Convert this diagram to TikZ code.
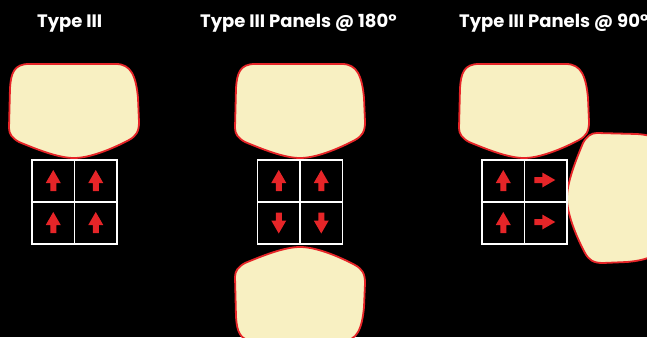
\documentclass[tikz,border=0pt]{standalone}
\usepackage{fontspec}
\setmainfont{Poppins}
\definecolor{shapefill}{HTML}{F8F0C2}
\definecolor{shapered}{HTML}{E62528}
\tikzset{
  blob/.style={fill=shapefill,draw=shapered,line width=1.8pt,line join=round},
  gridline/.style={draw=white,line width=1.8pt},
  arrowshape/.style={fill=shapered,draw=none},
  title/.style={text=white,anchor=base west,inner sep=0pt,font=\fontsize{18}{20}\selectfont\bfseries},
  pics/blobshape/.style={code={
    \path[blob] (-45,-94) -- (42,-94)
      .. controls (57,-94) and (62,-82) .. (64,-60) -- (65,-36)
      .. controls (65,-26) and (62,-22) .. (55,-18)
      .. controls (38,-9) and (16,0) .. (0,0)
      .. controls (-16,0) and (-38,-9) .. (-55,-16)
      .. controls (-62,-20) and (-65,-24) .. (-65,-30)
      -- (-64,-70) .. controls (-63,-85) and (-60,-94) .. (-45,-94) -- cycle;
  }},
  pics/uparrow/.style={code={
    \path[arrowshape] (0,-11) -- (7.5,2) -- (3,2) -- (3,10) -- (-3,10) -- (-3,2) -- (-7.5,2) -- cycle;
  }},
  pics/panelgrid/.style={code={
    \draw[gridline] (-42.5,160) rectangle (42.5,244);
    \draw[draw=white,line width=1.4pt] (0,160) -- (0,244) (-42.5,202) -- (42.5,202);
  }}
}
\begin{document}
\begin{tikzpicture}[x=1pt,y=-1pt]
\fill[black] (0,0) rectangle (647,337);
\useasboundingbox (0,0) rectangle (647,337);

% titles
\node[title] (t1) at (37,27.3) {Type III};
\node[title] (t2) at (200,27.3) {Type III Panels @ 180°};
\node[title] (t3) at (459,27.3) {Type III Panels @ 90°};

% panel 1
\pic at (74,158) {blobshape};
\pic at (74.5,0) {panelgrid};
\pic at (53.25,181) {uparrow};
\pic at (95.75,181) {uparrow};
\pic at (53.25,223) {uparrow};
\pic at (95.75,223) {uparrow};

% panel 2
\pic at (300,158) {blobshape};
\pic[yscale=-1] at (300,247) {blobshape};
\pic at (300,0) {panelgrid};
\pic at (278.75,181) {uparrow};
\pic at (321.25,181) {uparrow};
\pic[rotate=180] at (278.75,222.5) {uparrow};
\pic[rotate=180] at (321.25,222.5) {uparrow};

% panel 3
\pic at (524,158) {blobshape};
\pic[rotate=-90] at (567,198) {blobshape};
\pic at (524.5,0) {panelgrid};
\pic at (503.25,181) {uparrow};
\pic at (503.25,223) {uparrow};
\pic[rotate=-90] at (544.25,180) {uparrow};
\pic[rotate=-90] at (544.25,222) {uparrow};
\end{tikzpicture}
\end{document}
